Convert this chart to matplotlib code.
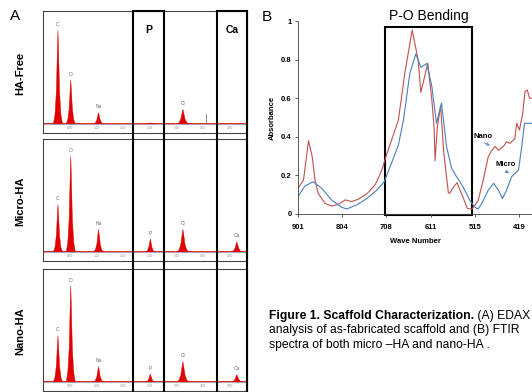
import numpy as np
import matplotlib
matplotlib.use('Agg')
from matplotlib import pyplot as plt
from matplotlib.patches import Rectangle

plt.rcParams['font.family'] = ['Liberation Sans', 'DejaVu Sans']

W, H = 532, 392

# --- A: EDAX spectra (energy in keV, relative counts) ---
elements = ['C', 'O', 'Na', 'P', 'Cl', 'Ca']
energy = [0.28, 0.52, 1.04, 2.01, 2.62, 3.63]
halfwidth = [0.085, 0.085, 0.09, 0.085, 0.11, 0.1]
ha_free = [0.83, 0.39, 0.10, 0.01, 0.13, 0.0]
micro_ha = [0.42, 0.85, 0.20, 0.115, 0.20, 0.09]
nano_ha = [0.41, 0.85, 0.135, 0.07, 0.18, 0.065]
panel_names = ['HA-Free', 'Micro-HA', 'Nano-HA']
kev_ticks = [0.5, 1.0, 1.5, 2.0, 2.5, 3.0, 3.5]
kev_labels = ['0.50', '1.00', '1.50', '2.00', '2.50', '3.00', '3.50']
boxes = [('P', 1.685, 2.266), ('Ca', 3.258, 3.82)]
kev_max = 3.82

# --- B: FTIR spectra ---
nano_wn = [901, 889, 878, 870, 864, 857, 842, 828, 813, 798, 784, 770, 751, 733, 718, 708, 693, 682, 668, 652,
           639, 633, 626, 618, 609, 604, 602, 597, 590, 583, 573, 570, 562, 554, 540, 532, 522, 515, 508, 497,
           486, 478, 471, 464, 453, 446, 439, 428, 424, 418, 411, 406, 401, 396, 391]
nano_abs = [0.133, 0.176, 0.38, 0.297, 0.176, 0.107, 0.055, 0.041, 0.05, 0.073, 0.064, 0.076, 0.104, 0.15, 0.228, 0.306, 0.41, 0.487, 0.73, 0.953,
            0.80, 0.63, 0.70, 0.78, 0.59, 0.44, 0.276, 0.45, 0.56, 0.316, 0.11, 0.107, 0.14, 0.162, 0.08, 0.03, 0.025, 0.045, 0.07, 0.176,
            0.297, 0.33, 0.35, 0.33, 0.35, 0.375, 0.366, 0.39, 0.47, 0.435, 0.52, 0.634, 0.643, 0.6, 0.6]
micro_wn = [901, 886, 868, 849, 828, 806, 795, 773, 751, 729, 713, 700, 682, 671, 657, 644, 633, 620, 609, 599,
            588, 577, 566, 555, 541, 526, 515, 508, 500, 486, 474, 464, 455, 446, 435, 428, 420, 413, 407, 399, 391]
micro_abs = [0.09, 0.145, 0.167, 0.133, 0.073, 0.035, 0.026, 0.047, 0.08, 0.124, 0.167, 0.245, 0.357, 0.487, 0.73, 0.83, 0.76, 0.78, 0.66, 0.47,
             0.574, 0.35, 0.237, 0.193, 0.141, 0.07, 0.035, 0.026, 0.055, 0.124, 0.159, 0.124, 0.08, 0.124, 0.193, 0.21, 0.228, 0.35, 0.47, 0.47, 0.47]
wn_ticks = [901, 804, 708, 611, 515, 419]
abs_ticks = [0, 0.2, 0.4, 0.6, 0.8, 1]
abs_labels = ['0', '0.2', '0.4', '0.6', '0.8', '1']

RED_EDS = '#e00000'
RED = '#c0504d'
BLUE = '#4a7ebb'


def px_rect(left, top, right, bottom):
    return [left / W, 1 - bottom / H, (right - left) / W, (bottom - top) / H]


fig = plt.figure(figsize=(W / 100, H / 100), dpi=100)

# peak outline template (spiky EDS peak)
shape_x = np.array([-1, -0.65, -0.35, -0.12, 0, 0.12, 0.35, 0.65, 1])
shape_y = np.array([0, 0.1, 0.35, 0.8, 1, 0.8, 0.35, 0.1, 0])

tops = [11, 139, 269]
for name, heights, top in zip(panel_names, [ha_free, micro_ha, nano_ha], tops):
    ax = fig.add_axes(px_rect(43, top, 247, top + 122))
    ax.set_xlim(0, kev_max)
    ax.set_ylim(-0.08, 1)
    ax.axhline(0, color='#999999', lw=0.6)
    ax.plot([0, kev_max], [0.006, 0.006], color=RED_EDS, lw=0.6)
    for e, h, w, el in zip(energy, heights, halfwidth, elements):
        if h <= 0:
            continue
        ax.fill(e + w * shape_x, h * shape_y, color=RED_EDS, lw=0.3)
        if h > 0.02:
            ax.text(e, h + 0.03, el, fontsize=3.5, color='#666666', ha='center', va='bottom')
    for t, lab in zip(kev_ticks, kev_labels):
        ax.text(t, -0.04, lab, fontsize=2.3, color='#888888', ha='center', va='center')
    if name == 'HA-Free':
        ax.plot([3.05, 3.05], [0, 0.09], color='#777777', lw=0.6)
    ax.set_xticks([])
    ax.set_yticks([])
    for s in ax.spines.values():
        s.set_color('#444444')
        s.set_linewidth(0.8)
    fig.text(20 / W, 1 - (top + 62) / H, name, rotation=90, fontweight='bold', fontsize=8,
             ha='center', va='center')

# P / Ca boxes spanning the three EDS panels
ov = fig.add_axes(px_rect(43, 11, 247, 392))
ov.set_xlim(0, kev_max)
ov.set_ylim(0, 1)
ov.axis('off')
for lab, lo, hi in boxes:
    ov.add_patch(Rectangle((lo, -0.2), hi - lo, 1.2, fill=False, ec='black', lw=1.5, clip_on=False))
    ov.text((lo + hi) / 2, 0.95, lab, fontsize=7.5, fontweight='bold', ha='center', va='center')

fig.text(15 / W, 1 - 16 / H, 'A', fontsize=11, ha='center', va='center')
fig.text(267 / W, 1 - 17 / H, 'B', fontsize=11, ha='center', va='center')

# --- FTIR panel ---
bx = fig.add_axes(px_rect(298, 21, 532, 214))
bx.plot(nano_wn, nano_abs, color=RED, lw=0.8)
bx.plot(micro_wn, micro_abs, color=BLUE, lw=0.8)
bx.set_xlim(901, 390.6)
bx.set_ylim(0, 1)
bx.set_xticks(wn_ticks)
bx.set_xticklabels([str(t) for t in wn_ticks], fontsize=5.5, fontweight='bold')
bx.set_yticks(abs_ticks)
bx.set_yticklabels(abs_labels, fontsize=5.5, fontweight='bold')
bx.tick_params(axis='x', length=2.5, width=0.6, pad=5, color='#404040')
bx.tick_params(axis='y', length=2.5, width=0.6, pad=2, color='#404040')
for s in ['top', 'right']:
    bx.spines[s].set_visible(False)
for s in ['left', 'bottom']:
    bx.spines[s].set_color('#404040')
    bx.spines[s].set_linewidth(0.6)
bx.set_xlabel('Wave Number', fontsize=5.5, fontweight='bold', labelpad=5)
bx.set_ylabel('Absorbance', fontsize=5.5, fontweight='bold', labelpad=4)
bx.patch.set_visible(False)

bx.add_patch(Rectangle((521.5, -0.005), 711.3 - 521.5, 0.975, fill=False, ec='black', lw=1.5, clip_on=False))
bx.text(616.4, 1.026, 'P-O Bending', fontsize=10, ha='center', va='center', clip_on=False)

bx.annotate('', xy=(477, 0.349), xytext=(500, 0.375),
            arrowprops=dict(arrowstyle='->', color=BLUE, lw=0.6, mutation_scale=5))
bx.text(497.5, 0.404, 'Nano', fontsize=5.5, fontweight='bold', ha='center', va='center')
bx.annotate('', xy=(435, 0.207), xytext=(454, 0.228),
            arrowprops=dict(arrowstyle='->', color=BLUE, lw=0.6, mutation_scale=5))
bx.text(448, 0.259, 'Micro', fontsize=5.5, fontweight='bold', ha='center', va='center')

# --- caption ---
cap = fig.text(269 / W, 1 - 316 / H, 'Figure 1. Scaffold Characterization.', fontsize=8.7,
               fontweight='bold', ha='left', va='center')
bx.annotate(' (A) EDAX', xy=(1, 0.5), xycoords=cap, fontsize=8.7, ha='left', va='center',
            annotation_clip=False)
fig.text(269 / W, 1 - 330 / H, 'analysis of as-fabricated scaffold and (B) FTIR', fontsize=8.7,
         ha='left', va='center')
fig.text(269 / W, 1 - 345 / H, 'spectra of both micro \u2013HA and nano-HA .', fontsize=8.7,
         ha='left', va='center')

fig.savefig('out.png', dpi=100)
